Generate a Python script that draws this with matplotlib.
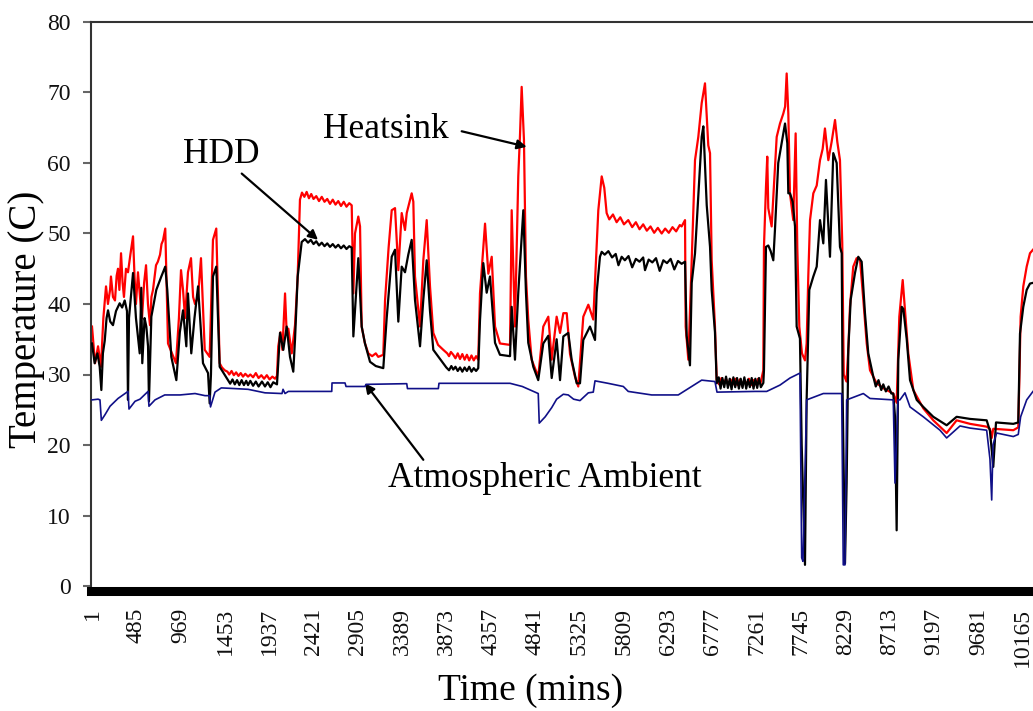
import matplotlib
matplotlib.use("Agg")
import matplotlib.pyplot as plt

plt.rcParams["font.family"] = ["Liberation Serif", "DejaVu Serif"]

# (time in minutes, temperature in C)
HEATSINK = [
    (1, 36.8), (34, 31.6), (67, 34.0), (99, 31.1), (125, 38), (154, 42.5), (175, 40), (198, 42.0),
    (208, 43.9), (230, 41), (252, 40.5), (270, 44), (285, 45.0), (300, 42), (318, 47.2), (335, 43),
    (350, 41.0), (372, 45), (394, 44.5), (420, 47), (449, 49.6), (465, 44), (481, 40.0), (503, 44.5),
    (525, 41), (547, 38.0), (570, 43), (591, 45.5), (612, 40), (634, 37.0), (650, 41), (667, 42.0),
    (700, 45.5), (720, 46), (744, 47.0), (760, 48.5), (776, 49.0), (801, 50.7), (831, 34.4), (875, 33.0),
    (918, 31.6), (950, 38), (973, 44.8), (995, 42), (1017, 38.0), (1049, 44.5), (1082, 46.5), (1105, 41),
    (1126, 40.0), (1159, 41.0), (1191, 46.5), (1232, 33.5), (1286, 32.5), (1322, 49.1), (1358, 50.7),
    (1395, 31.6), (1420, 31.0), (1450, 30.6), (1480, 30.4), (1500, 30.0), (1525, 30.5), (1550, 29.9),
    (1575, 30.3), (1600, 29.8), (1625, 30.2), (1650, 29.7), (1675, 30.1), (1705, 29.7), (1730, 30.0),
    (1760, 29.6), (1790, 30.2), (1820, 29.5), (1850, 29.9), (1880, 29.4), (1910, 29.9), (1940, 29.3),
    (1970, 29.7), (2000, 29.4), (2021, 29.8), (2035, 34.0), (2060, 36), (2080, 33.5), (2109, 41.5),
    (2125, 36.5), (2145, 36.5), (2182, 33.0), (2200, 35), (2218, 37.0), (2247, 43.9), (2272, 54.8),
    (2294, 55.8), (2320, 55.2), (2345, 55.9), (2370, 55.0), (2395, 55.6), (2420, 54.9), (2450, 55.3),
    (2480, 54.6), (2510, 55.2), (2540, 54.5), (2570, 54.9), (2600, 54.2), (2630, 54.8), (2660, 54.1),
    (2690, 54.6), (2720, 53.9), (2750, 54.5), (2780, 53.8), (2810, 54.3), (2837, 54.0), (2855, 41.5),
    (2873, 50), (2909, 52.4), (2928, 51), (2946, 36.8), (2980, 34.5), (3018, 33.0), (3060, 32.6),
    (3100, 33), (3127, 32.5), (3182, 32.8), (3201, 40.5), (3240, 48), (3274, 53.3), (3310, 53.6),
    (3346, 44.8), (3383, 52.9), (3419, 50.5), (3438, 52.9), (3492, 55.7), (3510, 54.5), (3528, 43.9),
    (3583, 36.8), (3619, 46.2), (3656, 51.9), (3692, 42.5), (3728, 35.9), (3780, 34.2), (3837, 33.5),
    (3880, 33.0), (3900, 32.6), (3920, 33.2), (3946, 32.8), (3970, 32.3), (3995, 33.0), (4020, 32.2),
    (4045, 32.9), (4070, 32.1), (4095, 32.8), (4120, 32.0), (4145, 32.7), (4170, 32.0), (4195, 32.6),
    (4219, 32.1), (4238, 41.5), (4293, 51.4), (4329, 44.3), (4366, 46.7), (4402, 36.8), (4456, 34.4),
    (4566, 34.2), (4584, 53.3), (4620, 36.8), (4656, 58.1), (4675, 64), (4693, 70.8), (4718, 63.3),
    (4740, 43.9), (4765, 37.8), (4802, 32.1), (4874, 29.7), (4929, 36.8), (4984, 38.2), (5021, 32.1),
    (5075, 38.2), (5112, 35.9), (5148, 38.7), (5185, 38.7), (5221, 32.9), (5275, 29.7), (5311, 28.3),
    (5366, 38.2), (5421, 39.9), (5475, 37.8), (5512, 48.1), (5530, 53.3), (5567, 58.1), (5595, 56.5),
    (5621, 52.9), (5650, 52.0), (5690, 52.7), (5730, 51.6), (5770, 52.3), (5810, 51.3), (5857, 51.9),
    (5900, 50.9), (5940, 51.6), (5980, 50.6), (6020, 51.3), (6060, 50.4), (6100, 51.0), (6140, 50.1),
    (6180, 50.8), (6222, 50.0), (6260, 50.7), (6300, 50.1), (6340, 50.9), (6380, 50.3), (6420, 51.2),
    (6440, 51.0), (6477, 51.9), (6484, 36.8), (6513, 32.1), (6550, 46.2), (6586, 60.4), (6622, 63.7),
    (6659, 68.5), (6695, 71.3), (6731, 62.5), (6750, 61.4), (6768, 46.2), (6804, 36.8), (6823, 29.2),
    (6850, 28.6), (6875, 29.5), (6900, 28.7), (6925, 29.4), (6950, 28.5), (6975, 29.3), (7000, 28.6),
    (7025, 29.4), (7050, 28.5), (7075, 29.3), (7100, 28.4), (7125, 29.2), (7150, 28.6), (7175, 29.4),
    (7200, 28.5), (7225, 29.2), (7250, 28.6), (7275, 29.4), (7300, 28.7), (7332, 30.6), (7339, 48.1),
    (7361, 56.6), (7375, 60.9), (7386, 53.6), (7423, 51.0), (7459, 59.5), (7478, 63.7), (7514, 65.6),
    (7550, 67.0), (7570, 68), (7587, 72.7), (7605, 67.0), (7623, 55.7), (7659, 51.9), (7685, 64.2),
    (7703, 48.0), (7725, 36.8), (7754, 33), (7787, 32), (7805, 34.4), (7823, 43.9), (7842, 51.9),
    (7878, 55.7), (7915, 56.8), (7951, 60.4), (7980, 62), (8005, 64.9), (8042, 60.4), (8078, 63.0),
    (8115, 66.1), (8140, 63.0), (8169, 60.4), (8194, 48.6), (8210, 30), (8240, 29), (8260, 33.5),
    (8278, 39.6), (8314, 45.3), (8351, 46.5), (8388, 46.3), (8424, 40.6), (8461, 34.4), (8497, 30.6),
    (8570, 28.75), (8650, 28.0), (8751, 27.3), (8788, 26), (8817, 38.2), (8854, 43.4), (8879, 39.1),
    (8915, 33.0), (8970, 27.8), (9079, 25.2), (9188, 23.5), (9334, 21.7), (9443, 23.5), (9589, 23.0),
    (9771, 22.6), (9807, 22.3), (9826, 21), (9843, 22.3), (10062, 22.1), (10116, 22.5), (10127, 28.75),
    (10142, 38.2), (10171, 42.5), (10208, 45.3), (10244, 47.2), (10277, 47.7),
]

HDD = [
    (1, 34.4), (30, 31.6), (60, 33), (85, 31.1), (103, 27.8), (120, 33), (140, 34.8), (160, 38),
    (176, 39.1), (200, 37.5), (230, 37.0), (263, 39), (303, 40.1), (330, 39.5), (358, 40.5), (383, 39),
    (394, 26.4), (405, 38), (449, 44.4), (481, 38), (522, 33.0), (539, 42.3), (550, 31.6), (575, 38),
    (594, 36.8), (613, 34), (623, 26.2), (649, 38.2), (703, 42.0), (758, 43.9), (801, 45.3), (823, 42.0),
    (867, 32.5), (922, 29.2), (960, 36), (995, 39.1), (1031, 34.0), (1049, 41.5), (1085, 33.0), (1120, 38),
    (1159, 42.5), (1213, 31.6), (1268, 30.2), (1286, 25.9), (1300, 30), (1322, 43.9), (1358, 45.3),
    (1395, 31.1), (1486, 29.2), (1510, 28.7), (1535, 29.3), (1560, 28.6), (1585, 29.2), (1610, 28.5),
    (1635, 29.2), (1660, 28.5), (1685, 29.1), (1705, 28.5), (1730, 29.1), (1760, 28.4), (1790, 29.0),
    (1820, 28.3), (1857, 29.0), (1890, 28.3), (1920, 28.9), (1950, 28.2), (1980, 28.9), (2021, 28.6),
    (2054, 35.9), (2090, 33.5), (2127, 36.8), (2163, 32.5), (2199, 30.4), (2218, 35.0), (2247, 43.9),
    (2291, 48.8), (2327, 49.2), (2360, 48.7), (2390, 49.1), (2420, 48.5), (2450, 48.9), (2480, 48.3),
    (2510, 48.7), (2540, 48.2), (2570, 48.6), (2600, 48.1), (2630, 48.5), (2660, 48.0), (2690, 48.4),
    (2720, 47.9), (2750, 48.3), (2780, 47.8), (2810, 48.2), (2837, 48.0), (2855, 35.4), (2909, 46.5),
    (2946, 36.8), (2982, 34.4), (3037, 31.8), (3100, 31.2), (3182, 30.9), (3219, 38.0), (3274, 46.7),
    (3310, 47.7), (3346, 37.5), (3383, 45.3), (3419, 44.5), (3455, 47), (3492, 49.1), (3528, 40.6),
    (3583, 34.0), (3619, 40.6), (3656, 46.2), (3692, 39.0), (3728, 33.5), (3837, 31.6), (3870, 31.0),
    (3900, 30.6), (3925, 31.2), (3946, 30.7), (3970, 31.1), (3995, 30.5), (4020, 31.0), (4045, 30.4),
    (4070, 31.0), (4095, 30.5), (4120, 31.1), (4145, 30.4), (4170, 30.9), (4195, 30.5), (4219, 30.9),
    (4238, 37.7), (4274, 45.8), (4311, 41.6), (4347, 43.9), (4402, 34.5), (4456, 32.8), (4566, 32.6),
    (4584, 39.6), (4620, 32.1), (4656, 41.6), (4711, 53.3), (4740, 41.6), (4765, 34.5), (4820, 31.1),
    (4874, 29.2), (4929, 34.4), (4984, 35.5), (5021, 29.5), (5075, 35.0), (5112, 29.2), (5148, 35.4),
    (5202, 35.9), (5239, 32.1), (5294, 28.75), (5330, 28.75), (5366, 34.9), (5439, 36.8), (5494, 34.9),
    (5512, 41.6), (5548, 46.7), (5567, 47.4), (5600, 47.0), (5640, 47.5), (5680, 46.6), (5720, 47.1),
    (5750, 45.5), (5785, 46.7), (5820, 46.2), (5860, 46.8), (5900, 45.2), (5940, 46.4), (5980, 46.0),
    (6020, 46.6), (6040, 44.8), (6080, 46.3), (6120, 45.9), (6160, 46.5), (6200, 44.7), (6240, 46.2),
    (6280, 45.8), (6320, 46.4), (6360, 44.9), (6400, 46.1), (6440, 45.7), (6477, 46.0), (6495, 35.5),
    (6531, 31.3), (6550, 43.0), (6586, 47.2), (6622, 55.3), (6659, 63.7), (6677, 65.2), (6714, 54.0),
    (6750, 48.1), (6768, 42.0), (6804, 36.0), (6823, 28.75), (6845, 29.6), (6865, 28.0), (6885, 29.5),
    (6905, 28.2), (6925, 29.7), (6945, 28.1), (6965, 29.4), (6985, 27.9), (7005, 29.6), (7025, 28.2),
    (7045, 29.5), (7065, 28.0), (7085, 29.4), (7105, 28.1), (7125, 29.6), (7145, 28.0), (7165, 29.3),
    (7185, 28.2), (7205, 29.5), (7225, 28.0), (7245, 29.4), (7265, 28.1), (7285, 29.5), (7305, 28.2),
    (7332, 28.8), (7339, 30.6), (7361, 48.1), (7386, 48.3), (7412, 47.5), (7441, 46.2), (7459, 50.5),
    (7495, 60.0), (7532, 62.8), (7569, 65.6), (7594, 62.8), (7605, 55.7), (7623, 55.7), (7653, 54.5),
    (7678, 51.0), (7696, 36.8), (7732, 35.1), (7751, 20), (7787, 3.0), (7805, 26.4), (7834, 42.0),
    (7878, 43.9), (7915, 45.3), (7951, 51.9), (7987, 48.6), (8016, 57.6), (8060, 46.7), (8096, 61.4),
    (8133, 60.0), (8169, 48.1), (8188, 47.2), (8198, 27.3), (8224, 3.2), (8242, 14.6), (8260, 33.5),
    (8286, 40.6), (8333, 44.4), (8369, 46.7), (8406, 46.0), (8442, 38.7), (8478, 33.0), (8533, 29.7),
    (8560, 28.3), (8590, 29.2), (8620, 27.8), (8642, 28.6), (8670, 27.6), (8700, 28.3), (8730, 27.3),
    (8751, 27.3), (8770, 24.0), (8788, 7.9), (8806, 32.1), (8843, 39.6), (8861, 39.3), (8898, 35.0),
    (8934, 29.2), (9007, 26.4), (9079, 25.4), (9188, 24.0), (9334, 22.8), (9443, 24.0), (9589, 23.7),
    (9771, 23.5), (9807, 22.0), (9843, 16.9), (9873, 23.2), (10062, 23.0), (10116, 23.2), (10135, 35.8),
    (10171, 39.6), (10208, 42.0), (10244, 42.9), (10277, 43.0),
]

AMBIENT = [
    (1, 26.4), (67, 26.5), (88, 26.4), (103, 23.5), (143, 24.3), (198, 25.5), (285, 26.6), (394, 27.6),
    (405, 25.1), (471, 26.2), (525, 26.5), (613, 27.6), (623, 25.5), (689, 26.4), (795, 27.1), (962, 27.1),
    (1126, 27.3), (1235, 27.0), (1286, 27.0), (1295, 25.4), (1344, 27.5), (1413, 28.1), (1563, 28.0),
    (1705, 27.9), (1890, 27.4), (2076, 27.3), (2087, 27.9), (2109, 27.3), (2145, 27.6), (2619, 27.6),
    (2622, 28.8), (2764, 28.8), (2775, 28.3), (2982, 28.3), (2993, 28.6), (3438, 28.7), (3446, 28.0),
    (3783, 28.0), (3790, 28.75), (4566, 28.75), (4700, 28.3), (4874, 27.3), (4885, 23.1), (4950, 24.0),
    (5021, 25.3), (5075, 26.5), (5148, 27.2), (5202, 27.1), (5260, 26.5), (5330, 26.3), (5421, 27.4),
    (5475, 27.5), (5494, 29.1), (5636, 28.75), (5803, 28.3), (5857, 27.6), (6113, 27.1), (6168, 27.1),
    (6403, 27.1), (6659, 29.2), (6804, 29.0), (6826, 27.5), (7241, 27.6), (7369, 27.6), (7514, 28.5),
    (7623, 29.5), (7732, 30.2), (7751, 4.0), (7765, 3.5), (7805, 26.4), (7987, 27.3), (8188, 27.3),
    (8205, 3.0), (8224, 3.0), (8242, 26.4), (8424, 27.3), (8497, 26.6), (8751, 26.4), (8770, 14.6),
    (8803, 26.4), (8824, 26.4), (8879, 27.4), (8934, 25.4), (9079, 24.0), (9261, 22.1), (9334, 21.0),
    (9480, 22.7), (9589, 22.4), (9771, 22.1), (9807, 18), (9826, 12.2), (9840, 20), (9880, 21.7),
    (10062, 21.2), (10116, 21.5), (10142, 24.0), (10208, 26.4), (10277, 27.6),
]

X_TICKS = [1, 485, 969, 1453, 1937, 2421, 2905, 3389, 3873, 4357, 4841, 5325,
           5809, 6293, 6777, 7261, 7745, 8229, 8713, 9197, 9681, 10165]
Y_TICKS = [0, 10, 20, 30, 40, 50, 60, 70, 80]

fig = plt.figure(figsize=(10.33, 7.11), dpi=100)
ax = fig.add_axes([91 / 1033, 1 - 586 / 711, (1033 - 91) / 1033, (586 - 22) / 711])

for series, color, lw, z in ((HEATSINK, "#ff0000", 1.6, 2),
                             (HDD, "#000000", 1.6, 3),
                             (AMBIENT, "#101088", 1.2, 4)):
    t, v = zip(*series)
    ax.plot(t, v, color=color, lw=lw, zorder=z)

ax.set_xlim(-10, 10277)
ax.set_ylim(0, 80)
ax.set_xticks(X_TICKS)
ax.set_xticklabels([str(x) for x in X_TICKS])
ax.set_yticks(Y_TICKS)

ax.spines["right"].set_visible(False)
for side in ("top", "left"):
    ax.spines[side].set_linewidth(1.5)
    ax.spines[side].set_color("#333333")
ax.spines["bottom"].set_linewidth(6.5)
ax.spines["bottom"].set_color("black")
ax.spines["bottom"].set_position(("outward", 3.25))

ax.tick_params(axis="y", direction="out", length=5.8, width=1.5, color="#666666",
               labelsize=17, pad=8.6, labelcolor="#111111")
ax.tick_params(axis="x", length=0, labelsize=17, pad=12.6, labelcolor="#111111",
               labelrotation=90)

ax.set_ylabel("Temperature (C)", fontsize=28, va="center", ha="center")
ax.yaxis.set_label_coords(-0.068, 0.473)
ax.set_xlabel("Time (mins)", fontsize=27, va="center", ha="center")
ax.xaxis.set_label_coords(0.467, -0.186)

arrow = dict(arrowstyle="-|>", color="black", lw=1.6, mutation_scale=14, shrinkA=0, shrinkB=0)
ax.text(1417, 60.0, "HDD", ha="center", va="baseline", fontsize=25.5)
ax.annotate("", xy=(2469, 49.1), xytext=(1636, 58.5), arrowprops=arrow)
ax.text(3212, 63.5, "Heatsink", ha="center", va="baseline", fontsize=25.5)
ax.annotate("", xy=(4748, 62.3), xytext=(4038, 64.5), arrowprops=arrow)
ax.text(4948, 14.0, "Atmospheric Ambient", ha="center", va="baseline", fontsize=25.5)
ax.annotate("", xy=(2982, 28.75), xytext=(3619, 17.9), arrowprops=arrow)

fig.savefig("out.png", dpi=100)
